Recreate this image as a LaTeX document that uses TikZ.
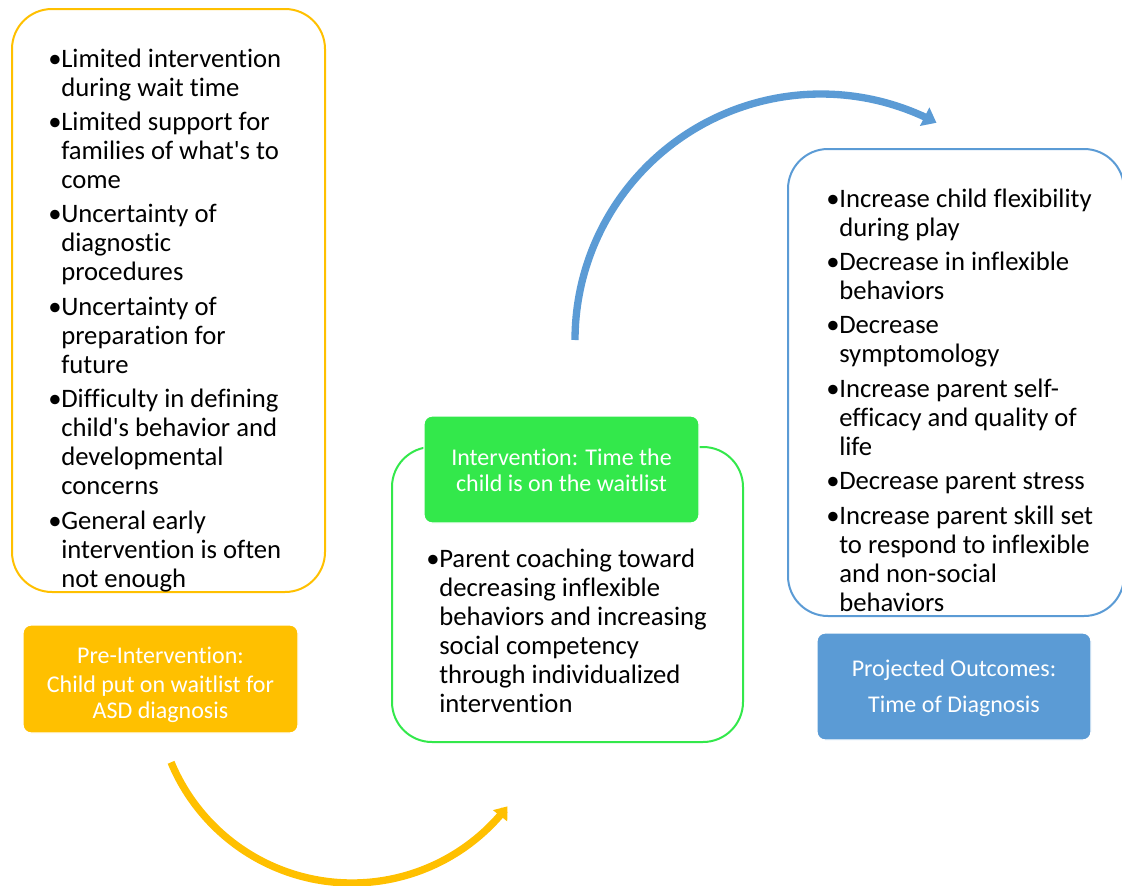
\documentclass[tikz,border=0pt]{standalone}
\usepackage{fontspec}
\setmainfont{Carlito}[Ligatures={TeXOff,NoCommon}]
\usetikzlibrary{arrows.meta}

\definecolor{preyellow}{HTML}{FFC000}
\definecolor{intgreen}{HTML}{33E84B}
\definecolor{outblue}{HTML}{5B9BD5}

% bullet cell of fixed width
\newcommand{\bul}{\makebox[9.75pt][l]{\textbullet}}

\tikzset{
  outline/.style={draw=#1, line width=1.5pt, rounded corners=30pt},
  headbox/.style={fill=#1, draw=white, line width=1pt, rounded corners=6pt},
  listtext/.style={anchor=base west, inner sep=0pt, text=black,
                   font=\fontsize{20}{21.75}\selectfont},
  headtext/.style={anchor=base, inner sep=0pt, text=white,
                   font=\fontsize{18}{19.5}\selectfont},
  flowarc/.style={draw=#1, line width=5.5pt}
}

\begin{document}
\begin{tikzpicture}[x=0.75pt, y=-0.75pt]
\useasboundingbox (0,0) rectangle (1122,886);
\clip (0,0) rectangle (1122,886);

% ---------- pre-intervention ----------
\draw[outline=preyellow] (12,9) rectangle (325,592);
\node[listtext] (prelist) at (48,67) {\begin{tabular}[t]{@{}l@{}l@{}}
\bul & Limited intervention\\
     & during wait time\\[4.1pt]
\bul & Limited support for\\
     & families of what's to\\
     & come\\[4.1pt]
\bul & Uncertainty of\\
     & diagnostic\\
     & procedures\\[4.1pt]
\bul & Uncertainty of\\
     & preparation for\\
     & future\\[4.1pt]
\bul & Difficulty in defining\\
     & child's behavior and\\
     & developmental\\
     & concerns\\[4.1pt]
\bul & General early\\
     & intervention is often\\
     & not enough
\end{tabular}};

\draw[headbox=preyellow] (23,625) rectangle (298,733);
\node[headtext] (prehead) at (160.5,663) {\begin{tabular}[t]{@{}c@{}}
Pre-Intervention:\\[2.25pt]
Child put on waitlist for\\
ASD diagnosis
\end{tabular}};

% ---------- intervention ----------
\draw[outline=intgreen] (392,447) rectangle (743,742);
\draw[headbox=intgreen] (424,416) rectangle (699,523);
\node[headtext] (inthead) at (561.5,465) {\begin{tabular}[t]{@{}c@{}}
Intervention: Time the\\
child is on the waitlist
\end{tabular}};
\node[listtext] (intlist) at (426,567) {\begin{tabular}[t]{@{}l@{}l@{}}
\bul & Parent coaching toward\\
     & decreasing inflexible\\
     & behaviors and increasing\\
     & social competency\\
     & through individualized\\
     & intervention
\end{tabular}};

% ---------- projected outcomes ----------
\draw[outline=outblue] (788,149) rectangle (1124,616);
\node[listtext] (outlist) at (826,207) {\begin{tabular}[t]{@{}l@{}l@{}}
\bul & Increase child flexibility\\
     & during play\\[4.1pt]
\bul & Decrease in inflexible\\
     & behaviors\\[4.1pt]
\bul & Decrease\\
     & symptomology\\[4.1pt]
\bul & Increase parent self-\\
     & efficacy and quality of\\
     & life\\[4.1pt]
\bul & Decrease parent stress\\[4.1pt]
\bul & Increase parent skill set\\
     & to respond to inflexible\\
     & and non-social\\
     & behaviors
\end{tabular}};

\draw[headbox=outblue] (817,633) rectangle (1091,740);
\node[headtext] (outhead) at (954,676) {\begin{tabular}[t]{@{}c@{}}
Projected Outcomes:\\[7.5pt]
Time of Diagnosis
\end{tabular}};

% ---------- transition arcs ----------
\coordinate (yc) at (352,687);
\coordinate (bc) at (821,340);
\draw[flowarc=preyellow, -{Triangle[length=9pt,width=13pt]}]
  plot[domain=157.4:37.5, samples=90] ({352+196*cos(\x)}, {687+196*sin(\x)});
\draw[flowarc=outblue, -{Triangle[length=10pt,width=15pt]}]
  plot[domain=180:298, samples=90] ({821+246*cos(\x)}, {340+246*sin(\x)});
\end{tikzpicture}
\end{document}
